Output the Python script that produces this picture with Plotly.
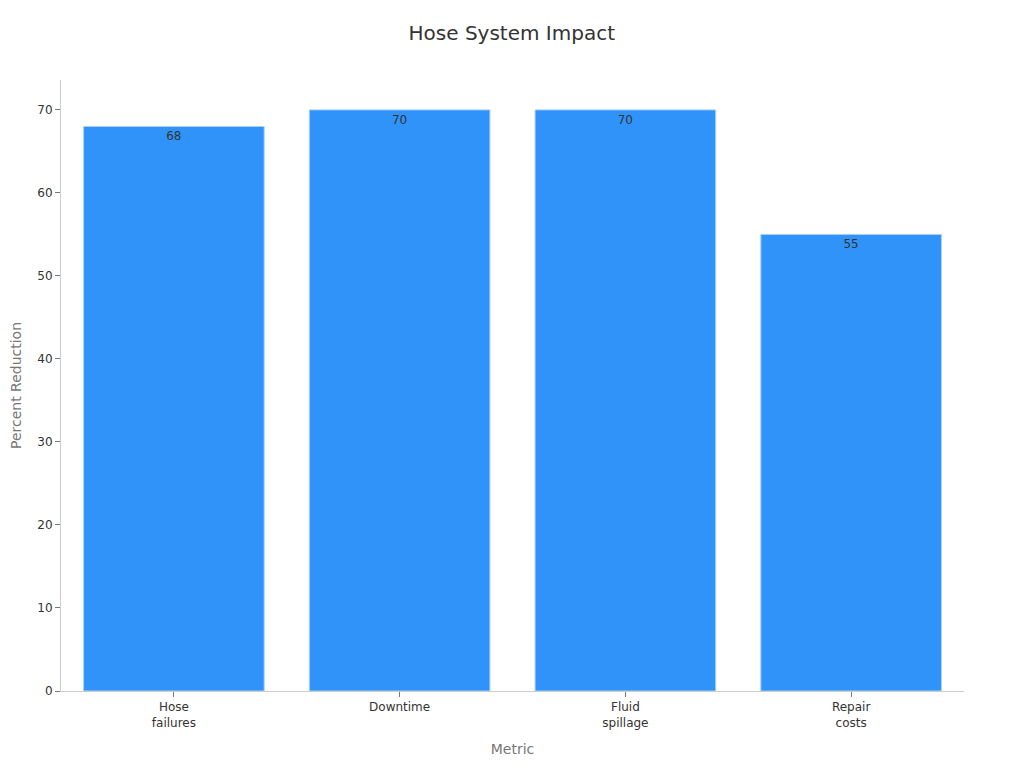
import plotly.graph_objects as go

categories = ["Hose<br>failures", "Downtime", "Fluid<br>spillage", "Repair<br>costs"]
values = [68, 70, 70, 55]

fig = go.Figure(go.Bar(
    x=categories, y=values,
    text=[str(v) for v in values],
    textposition="inside", insidetextanchor="end",
    textfont=dict(color="#333333", size=12),
    marker=dict(color="#2F93F9", line=dict(color="#A8D0FA", width=1)),
))

fig.update_layout(
    width=1024, height=768,
    font=dict(family="DejaVu Sans", color="#333333", size=12),
    title=dict(text="Hose System Impact", x=0.492, xanchor="center", y=0.9674,
               yanchor="middle", font=dict(size=20, color="#333333")),
    plot_bgcolor="white", paper_bgcolor="white",
    margin=dict(l=53, r=68, t=72, b=85),
    bargap=0.2,
    showlegend=False,
    xaxis=dict(title=dict(text="Metric", font=dict(size=14, color="#777777")),
               showline=True, linecolor="#cccccc", ticks="outside", ticklen=5,
               tickcolor="#777777", showgrid=False, automargin=False),
    yaxis=dict(title=dict(text="Percent Reduction", font=dict(size=14, color="#777777"),
                          standoff=14),
               range=[0, 73.6], dtick=10, showline=True, linecolor="#cccccc",
               ticks="outside", ticklen=5, tickcolor="#777777", showgrid=False,
               zeroline=False, automargin=False),
)

fig.write_html("out.html")
